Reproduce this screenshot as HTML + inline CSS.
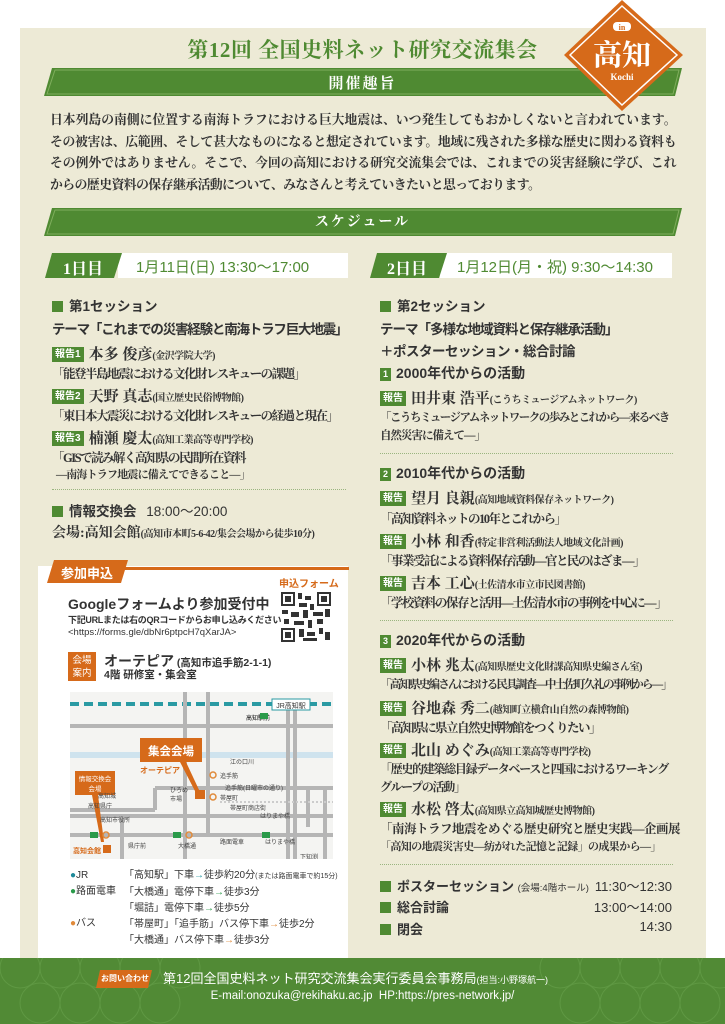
<!DOCTYPE html>
<html><head><meta charset="utf-8"><style>
*{margin:0;padding:0;box-sizing:border-box}
body{width:725px;height:1024px;position:relative;background:#fff;overflow:hidden;font-family:"Liberation Sans","Noto Sans CJK JP",sans-serif;color:#333}
.a{position:absolute;white-space:nowrap}
.serif{font-family:"Liberation Serif","Noto Serif CJK SC",serif}
.g{color:#4f8a32}
.sq{display:inline-block;width:11px;height:11px;background:#4f8a32;margin-right:6px;vertical-align:-1px}
.tag{display:inline-block;background:#4f8a32;color:#fff;font-size:10px;padding:1px 3px;line-height:13px;margin-right:5px;vertical-align:2px;font-family:"Liberation Sans","Noto Sans CJK JP",sans-serif;font-weight:bold;letter-spacing:0}
.dot{position:absolute;border-top:1px dotted #9ab57f;height:0}
.nm{font-size:15px;font-weight:bold}
.af{font-size:10px;font-weight:bold;letter-spacing:-0.5px}
.tt{font-size:12.5px;font-weight:bold;letter-spacing:-1.5px}
.h{font-size:13.5px;font-weight:bold}
.p div{text-align:justify;text-align-last:justify;height:21.5px}
</style></head><body>
<div class="a" style="left:20px;top:28px;width:686px;height:932px;background:#edead6"></div>
<div class="a serif g" style="left:0;width:725px;top:34px;text-align:center;font-size:21px;font-weight:bold;letter-spacing:0.5px">第12回 全国史料ネット研究交流集会</div>
<svg class="a" style="left:0;top:0" width="725" height="250">
<polygon points="52,68 682,68 675,96 44,96" fill="#4f8a32"/>
<polygon points="55,70 679,70 673,94 47,94" fill="none" stroke="#7fae5d" stroke-width="1"/>
<polygon points="52,208 682,208 675,236 44,236" fill="#4f8a32"/>
<polygon points="55,210 679,210 673,234 47,234" fill="none" stroke="#7fae5d" stroke-width="1"/>
<polygon points="622,0 683,55 622,111 564,55" fill="#d66a1a"/>
<polygon points="622,6 677,55 622,105 570,55" fill="none" stroke="#fff" stroke-width="1.5"/>
<rect x="613" y="22" width="18" height="9" rx="4" fill="#fff"/>
<text x="622" y="30" font-size="8" fill="#d66a1a" text-anchor="middle" font-weight="bold" font-family="Liberation Serif">in</text>
<text x="622" y="65" font-size="29" fill="#fff" text-anchor="middle" font-weight="bold" font-family="Liberation Serif,Noto Serif CJK SC,serif">高知</text>
<text x="622" y="80" font-size="9" fill="#fff" text-anchor="middle" font-weight="bold" font-family="Liberation Serif">Kochi</text>
</svg>
<div class="a serif" style="left:0;width:725px;top:72px;text-align:center;color:#fff;font-size:15px;font-weight:bold;letter-spacing:2px">開催趣旨</div>
<div class="a serif" style="left:0;width:725px;top:211px;text-align:center;color:#fff;font-size:14px;font-weight:bold;letter-spacing:2px">スケジュール</div>
<div class="a serif p" style="left:50px;top:109px;width:626px;font-size:12.8px;letter-spacing:-0.5px;font-weight:bold;color:#333">
<div>日本列島の南側に位置する南海トラフにおける巨大地震は、いつ発生してもおかしくないと言われています。</div>
<div>その被害は、広範囲、そして甚大なものになると想定されています。地域に残された多様な歴史に関わる資料も</div>
<div>その例外ではありません。そこで、今回の高知における研究交流集会では、これまでの災害経験に学び、これ</div>
<div style="text-align-last:left">からの歴史資料の保存継承活動について、みなさんと考えていきたいと思っております。</div>
</div>
<!-- day headers -->
<svg class="a" style="left:0;top:250px" width="725" height="32">
<rect x="118" y="3" width="230" height="25" fill="#fff"/>
<polygon points="52,3 122,3 114,28 45,28" fill="#4f8a32"/>
<rect x="440" y="3" width="232" height="25" fill="#fff"/>
<polygon points="377,3 447,3 439,28 370,28" fill="#4f8a32"/>
</svg>
<div class="a serif" style="left:63px;top:256px;color:#fff;font-size:16px;font-weight:bold">1日目</div>
<div class="a g" style="left:136px;top:256px;font-size:15px">1月11日(日) 13:30〜17:00</div>
<div class="a serif" style="left:387px;top:256px;color:#fff;font-size:16px;font-weight:bold">2日目</div>
<div class="a g" style="left:457px;top:256px;font-size:15px">1月12日(月・祝) 9:30〜14:30</div>
<!-- left col -->
<div class="a h" style="left:52px;top:295px"><span class="sq"></span>第1セッション</div>
<div class="a h" style="left:52px;top:318px;letter-spacing:-1.2px">テーマ「これまでの災害経験と南海トラフ巨大地震」</div>
<div class="a serif" style="left:52px;top:343px"><span class="tag">報告1</span><span class="nm">本多 俊彦</span><span class="af">(金沢学院大学)</span></div>
<div class="a serif tt" style="left:52px;top:364px">「能登半島地震における文化財レスキューの課題」</div>
<div class="a serif" style="left:52px;top:385px"><span class="tag">報告2</span><span class="nm">天野 真志</span><span class="af">(国立歴史民俗博物館)</span></div>
<div class="a serif tt" style="left:52px;top:406px">「東日本大震災における文化財レスキューの経過と現在」</div>
<div class="a serif" style="left:52px;top:427px"><span class="tag">報告3</span><span class="nm">楠瀬 慶太</span><span class="af">(高知工業高等専門学校)</span></div>
<div class="a serif tt" style="left:52px;top:448px">「GISで読み解く高知県の民間所在資料</div>
<div class="a serif" style="left:56px;top:466px;font-size:11px;font-weight:bold;letter-spacing:-0.8px">―南海トラフ地震に備えてできること―」</div>
<div class="dot" style="left:52px;top:489px;width:294px"></div>
<div class="a h" style="left:52px;top:500px"><span class="sq"></span>情報交換会 <span style="font-weight:normal;margin-left:6px">18:00〜20:00</span></div>
<div class="a serif" style="left:52px;top:522px;font-size:14px;font-weight:bold">会場:高知会館<span class="af">(高知市本町5-6-42/集会会場から徒歩10分)</span></div>
<!-- application box -->
<div class="a" style="left:38px;top:566px;width:310px;height:394px;background:#fff"></div>
<svg class="a" style="left:30px;top:558px" width="325" height="30">
<polygon points="24,2 98,2 91,25 17,25" fill="#d66a1a"/>
<rect x="95" y="9" width="224" height="3" fill="#d66a1a"/>
</svg>
<div class="a" style="left:61px;top:563px;color:#fff;font-size:13px;font-weight:bold">参加申込</div>
<div class="a" style="left:279px;top:575px;color:#d66a1a;font-size:10px;font-weight:bold">申込フォーム</div>
<svg class="a" style="left:281px;top:592px" width="50" height="50">
<rect width="50" height="50" fill="#fff"/>
<g fill="#333"><rect x="0" y="0" width="14" height="14"/><rect x="36" y="0" width="14" height="14"/><rect x="0" y="36" width="14" height="14"/></g>
<g fill="#fff"><rect x="2" y="2" width="10" height="10"/><rect x="38" y="2" width="10" height="10"/><rect x="2" y="38" width="10" height="10"/></g>
<g fill="#333"><rect x="4" y="4" width="6" height="6"/><rect x="40" y="4" width="6" height="6"/><rect x="4" y="40" width="6" height="6"/>
<rect x="17" y="1" width="4" height="6"/><rect x="24" y="4" width="6" height="4"/><rect x="18" y="11" width="8" height="4"/><rect x="29" y="12" width="4" height="6"/>
<rect x="1" y="18" width="6" height="4"/><rect x="10" y="20" width="8" height="5"/><rect x="22" y="18" width="5" height="8"/><rect x="32" y="20" width="10" height="4"/><rect x="44" y="17" width="5" height="8"/>
<rect x="3" y="27" width="5" height="5"/><rect x="13" y="29" width="10" height="4"/><rect x="27" y="28" width="4" height="8"/><rect x="36" y="27" width="6" height="5"/>
<rect x="18" y="37" width="5" height="8"/><rect x="26" y="40" width="8" height="4"/><rect x="38" y="36" width="4" height="6"/><rect x="44" y="40" width="5" height="8"/><rect x="22" y="46" width="14" height="3"/></g>
</svg>
<div class="a" style="left:68px;top:594px;font-size:14px;font-weight:bold">Googleフォームより参加受付中</div>
<div class="a" style="left:68px;top:613px;font-size:9px;font-weight:bold;letter-spacing:-0.3px">下記URLまたは右のQRコードからお申し込みください</div>
<div class="a" style="left:68px;top:627px;font-size:9.5px">&lt;https://forms.gle/dbNr6ptpcH7qXarJA&gt;</div>
<div class="a" style="left:68px;top:652px;width:28px;height:29px;background:#d66a1a;color:#fff;font-size:9.5px;line-height:13px;text-align:center;padding-top:2px;white-space:normal">会場<br>案内</div>
<div class="a" style="left:104px;top:651px;font-size:14px;font-weight:bold">オーテピア<span style="font-size:10.5px"> (高知市追手筋2-1-1)</span></div>
<div class="a" style="left:104px;top:667px;font-size:10.5px;font-weight:bold">4階 研修室・集会室</div>
<!-- map -->
<svg class="a" style="left:70px;top:692px" width="263" height="167" font-family="Liberation Sans,Noto Sans CJK JP,sans-serif">
<rect width="263" height="167" fill="#f4f4f2"/>
<rect x="0" y="60" width="263" height="6" fill="#cfe3ee"/>
<line x1="0" y1="12" x2="263" y2="12" stroke="#2a9aa3" stroke-width="4" stroke-dasharray="9,5"/>
<g stroke="#b5b5b5" stroke-width="4" fill="none">
<line x1="0" y1="34" x2="263" y2="34"/>
<line x1="115" y1="0" x2="115" y2="167"/>
<line x1="138" y1="0" x2="138" y2="145"/>
<line x1="218" y1="18" x2="218" y2="167"/>
<line x1="225" y1="18" x2="225" y2="167"/>
<line x1="0" y1="124" x2="263" y2="124"/>
<line x1="0" y1="143" x2="263" y2="143"/>
<line x1="85" y1="96" x2="263" y2="96"/>
<line x1="0" y1="118" x2="85" y2="118"/>
<line x1="85" y1="96" x2="85" y2="118"/>
<line x1="255" y1="96" x2="255" y2="167"/>
<line x1="238" y1="96" x2="238" y2="135"/>
<line x1="52" y1="124" x2="52" y2="167"/>
</g>
<line x1="150" y1="110" x2="263" y2="110" stroke="#ccc" stroke-width="2" stroke-dasharray="2,2"/>
<rect x="202" y="7" width="38" height="11" fill="#fff" stroke="#2a9aa3"/>
<text x="221" y="16" font-size="7" text-anchor="middle" fill="#333">JR高知駅</text>
<text x="200" y="28" font-size="6" text-anchor="end">高知駅前</text>
<rect x="70" y="46" width="62" height="24" fill="#d66a1a"/>
<text x="101" y="63" font-size="11.5" text-anchor="middle" fill="#fff" font-weight="bold">集会会場</text>
<text x="70" y="81" font-size="8" fill="#d66a1a" font-weight="bold">オーテピア</text>
<polygon points="110,70 116,70 130,100 126,101" fill="#d66a1a"/>
<rect x="125" y="98" width="10" height="9" fill="#d66a1a"/>
<rect x="5" y="79" width="40" height="24" fill="#d66a1a"/>
<text x="25" y="89" font-size="6.5" text-anchor="middle" fill="#fff">情報交換会</text>
<text x="25" y="99" font-size="6.5" text-anchor="middle" fill="#fff">会場</text>
<polygon points="22,103 28,103 34,150 31,150" fill="#d66a1a"/>
<rect x="33" y="153" width="8" height="8" fill="#d66a1a"/>
<text x="3" y="161" font-size="7" fill="#d66a1a" font-weight="bold">高知会館</text>
<g font-size="6" fill="#444">
<text x="160" y="72">江の口川</text><text x="150" y="86">追手筋</text><text x="150" y="108">帯屋町</text>
<text x="155" y="98">追手筋(日曜市の通り)</text><text x="160" y="118">帯屋町商店街</text>
<text x="28" y="106">高知城</text><text x="18" y="116">高知県庁</text><text x="30" y="130">高知市役所</text>
<text x="100" y="100">ひろめ</text><text x="100" y="109">市場</text><text x="190" y="126">はりまや橋</text>
<text x="58" y="156">県庁前</text><text x="108" y="156">大橋通</text><text x="150" y="152">路面電車</text><text x="195" y="152">はりまや橋</text><text x="230" y="167">下知渕</text>
</g>
<g fill="#2a9a4a"><rect x="20" y="140" width="8" height="6"/><rect x="103" y="140" width="8" height="6"/><rect x="192" y="140" width="8" height="6"/><rect x="190" y="21" width="8" height="6"/></g>
<g fill="none" stroke="#e08a3a" stroke-width="1.5"><circle cx="36" cy="143" r="3"/><circle cx="119" cy="143" r="3"/><circle cx="143" cy="83" r="3"/><circle cx="143" cy="105" r="3"/></g>
</svg>
<div class="a" style="left:70px;top:868px;font-size:10px;line-height:16px;white-space:pre"><span style="color:#1f8a9a">●</span>JR
<span style="color:#2a9a4a">●</span>路面電車

<span style="color:#e08a3a">●</span>バス</div>
<div class="a" style="left:124px;top:868px;font-size:10px;line-height:16px;white-space:pre">「高知駅」下車<span style="color:#2a9aa3">→</span>徒歩約20分<span style="font-size:7px">(または路面電車で約15分)</span>
「大橋通」電停下車<span style="color:#2a9a4a">→</span>徒歩3分
「堀詰」電停下車<span style="color:#2a9a4a">→</span>徒歩5分
「帯屋町」「追手筋」バス停下車<span style="color:#e08a3a">→</span>徒歩2分
「大橋通」バス停下車<span style="color:#e08a3a">→</span>徒歩3分</div>
<!-- right col -->
<div class="a h" style="left:380px;top:295px"><span class="sq"></span>第2セッション</div>
<div class="a h" style="left:380px;top:318px;letter-spacing:-1px">テーマ「多様な地域資料と保存継承活動」</div>
<div class="a h" style="left:380px;top:340px;letter-spacing:-0.5px">＋ポスターセッション・総合討論</div>
<div class="a h" style="left:380px;top:363px;font-size:14px"><span class="tag" style="font-size:9px;padding:0 3px;vertical-align:1px">1</span>2000年代からの活動</div>
<div class="a serif" style="left:380px;top:387px"><span class="tag">報告</span><span class="nm">田井東 浩平</span><span class="af">(こうちミュージアムネットワーク)</span></div>
<div class="a serif" style="left:380px;top:409px;font-size:11.5px;font-weight:bold;letter-spacing:-1.5px">「こうちミュージアムネットワークの歩みとこれから―来るべき</div>
<div class="a serif" style="left:380px;top:427px;font-size:11.5px;font-weight:bold;letter-spacing:-1px">自然災害に備えて―」</div>
<div class="dot" style="left:380px;top:453px;width:293px"></div>
<div class="a h" style="left:380px;top:463px;font-size:14px"><span class="tag" style="font-size:9px;padding:0 3px;vertical-align:1px">2</span>2010年代からの活動</div>
<div class="a serif" style="left:380px;top:487px"><span class="tag">報告</span><span class="nm">望月 良親</span><span class="af">(高知地域資料保存ネットワーク)</span></div>
<div class="a serif tt" style="left:380px;top:509px">「高知資料ネットの10年とこれから」</div>
<div class="a serif" style="left:380px;top:530px"><span class="tag">報告</span><span class="nm">小林 和香</span><span class="af">(特定非営利活動法人地域文化計画)</span></div>
<div class="a serif tt" style="left:380px;top:551px">「事業受託による資料保存活動―官と民のはざま―」</div>
<div class="a serif" style="left:380px;top:572px"><span class="tag">報告</span><span class="nm">吉本 工心</span><span class="af">(土佐清水市立市民図書館)</span></div>
<div class="a serif tt" style="left:380px;top:593px">「学校資料の保存と活用―土佐清水市の事例を中心に―」</div>
<div class="dot" style="left:380px;top:620px;width:293px"></div>
<div class="a h" style="left:380px;top:630px;font-size:14px"><span class="tag" style="font-size:9px;padding:0 3px;vertical-align:1px">3</span>2020年代からの活動</div>
<div class="a serif" style="left:380px;top:654px"><span class="tag">報告</span><span class="nm">小林 兆太</span><span class="af">(高知県歴史文化財課高知県史編さん室)</span></div>
<div class="a serif tt" style="left:380px;top:676px;font-size:11.5px;letter-spacing:-1.8px">「高知県史編さんにおける民具調査―中土佐町久礼の事例から―」</div>
<div class="a serif" style="left:380px;top:697px"><span class="tag">報告</span><span class="nm">谷地森 秀二</span><span class="af">(越知町立横倉山自然の森博物館)</span></div>
<div class="a serif tt" style="left:380px;top:718px">「高知県に県立自然史博物館をつくりたい」</div>
<div class="a serif" style="left:380px;top:739px"><span class="tag">報告</span><span class="nm">北山 めぐみ</span><span class="af">(高知工業高等専門学校)</span></div>
<div class="a serif tt" style="left:380px;top:760px;font-size:12px;letter-spacing:-1.3px">「歴史的建築総目録データベースと四国におけるワーキング</div>
<div class="a serif tt" style="left:380px;top:778px;font-size:12px;letter-spacing:-1.3px">グループの活動」</div>
<div class="a serif" style="left:380px;top:798px"><span class="tag">報告</span><span class="nm">水松 啓太</span><span class="af">(高知県立高知城歴史博物館)</span></div>
<div class="a serif tt" style="left:380px;top:819px;font-size:12.5px;letter-spacing:-0.5px">「南海トラフ地震をめぐる歴史研究と歴史実践―企画展</div>
<div class="a serif" style="left:380px;top:838px;font-size:11px;font-weight:bold;letter-spacing:-0.6px">「高知の地震災害史―紡がれた記憶と記録」の成果から―」</div>
<div class="dot" style="left:380px;top:864px;width:293px"></div>
<div class="a h" style="left:380px;top:876px;font-size:13px"><span class="sq"></span>ポスターセッション <span style="font-size:9.5px;font-weight:normal">(会場:4階ホール)</span></div>
<div class="a" style="left:560px;top:876px;width:112px;text-align:right;font-size:13px">11:30〜12:30</div>
<div class="a h" style="left:380px;top:897px;font-size:13px"><span class="sq"></span>総合討論</div>
<div class="a" style="left:560px;top:897px;width:112px;text-align:right;font-size:13px">13:00〜14:00</div>
<div class="a h" style="left:380px;top:919px;font-size:13px"><span class="sq"></span>閉会</div>
<div class="a" style="left:560px;top:919px;width:112px;text-align:right;font-size:13px">14:30</div>
<!-- footer -->
<div class="a" style="left:0;top:958px;width:725px;height:66px;background:#518a35"></div>
<svg class="a" style="left:0;top:958px" width="725" height="66"><g fill="none" stroke="#5f9843" stroke-width="1">
<circle cx="20" cy="10" r="20"/><circle cx="60" cy="10" r="20"/><circle cx="100" cy="10" r="20"/><circle cx="140" cy="10" r="20"/><circle cx="180" cy="10" r="20"/><circle cx="560" cy="10" r="20"/><circle cx="600" cy="10" r="20"/><circle cx="640" cy="10" r="20"/><circle cx="680" cy="10" r="20"/><circle cx="720" cy="10" r="20"/>
<circle cx="40" cy="45" r="20"/><circle cx="80" cy="45" r="20"/><circle cx="120" cy="45" r="20"/><circle cx="160" cy="45" r="20"/><circle cx="580" cy="45" r="20"/><circle cx="620" cy="45" r="20"/><circle cx="660" cy="45" r="20"/><circle cx="700" cy="45" r="20"/></g>
<polygon points="100,12 152,12 148,30 96,30" fill="#d66a1a"/></svg>
<div class="a" style="left:101px;top:973px;color:#fff;font-size:8px;font-weight:bold">お問い合わせ</div>
<div class="a" style="left:163px;top:968px;color:#fff;font-size:13px">第12回全国史料ネット研究交流集会実行委員会事務局<span style="font-size:9px">(担当:小野塚航一)</span></div>
<div class="a" style="left:0;width:725px;text-align:center;top:990px;color:#fff;font-size:11.5px">E-mail:onozuka@rekihaku.ac.jp&nbsp; HP:https://pres-network.jp/</div>
</body></html>
